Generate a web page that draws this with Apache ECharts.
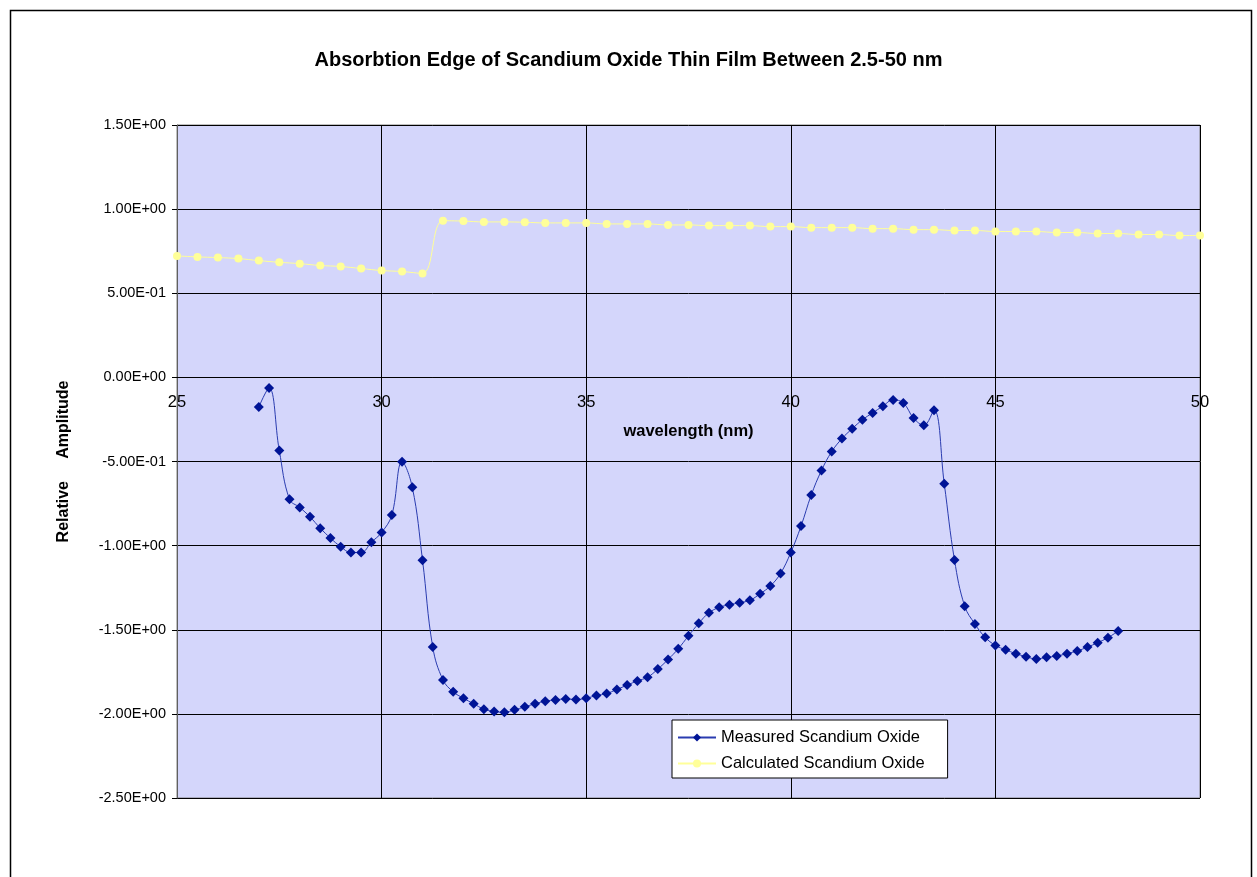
<!DOCTYPE html>
<html>
<head>
<meta charset="utf-8">
<script src="https://cdn.jsdelivr.net/npm/echarts@6/dist/echarts.min.js"></script>
<style>
html,body{margin:0;padding:0;background:#fff;}
#chart{width:1257px;height:877px;}
</style>
</head>
<body>
<div id="chart"></div>
<script>
// Measured Scandium Oxide (wavelength nm, relative amplitude)
var measuredX = [27,27.25,27.5,27.75,28,28.25,28.5,28.75,29,29.25,29.5,29.75,30,30.25,30.5,30.75,31,31.25,31.5,31.75,32,32.25,32.5,32.75,33,33.25,33.5,33.75,34,34.25,34.5,34.75,35,35.25,35.5,35.75,36,36.25,36.5,36.75,37,37.25,37.5,37.75,38,38.25,38.5,38.75,39,39.25,39.5,39.75,40,40.25,40.5,40.75,41,41.25,41.5,41.75,42,42.25,42.5,42.75,43,43.25,43.5,43.75,44,44.25,44.5,44.75,45,45.25,45.5,45.75,46,46.25,46.5,46.75,47,47.25,47.5,47.75,48];
var measuredY = [-0.176,-0.063,-0.435,-0.725,-0.773,-0.829,-0.896,-0.955,-1.006,-1.041,-1.041,-0.980,-0.922,-0.818,-0.502,-0.653,-1.087,-1.603,-1.798,-1.869,-1.907,-1.940,-1.972,-1.986,-1.990,-1.976,-1.958,-1.940,-1.925,-1.917,-1.911,-1.915,-1.907,-1.891,-1.879,-1.855,-1.829,-1.804,-1.782,-1.734,-1.677,-1.613,-1.536,-1.462,-1.399,-1.367,-1.351,-1.339,-1.325,-1.286,-1.240,-1.165,-1.041,-0.884,-0.699,-0.553,-0.441,-0.364,-0.305,-0.252,-0.211,-0.171,-0.134,-0.152,-0.242,-0.285,-0.195,-0.632,-1.085,-1.360,-1.466,-1.545,-1.593,-1.619,-1.642,-1.660,-1.674,-1.664,-1.656,-1.642,-1.626,-1.603,-1.577,-1.547,-1.508];

// Calculated Scandium Oxide
var calcX = [25,25.5,26,26.5,27,27.5,28,28.5,29,29.5,30,30.5,31,31.5,32,32.5,33,33.5,34,34.5,35,35.5,36,36.5,37,37.5,38,38.5,39,39.5,40,40.5,41,41.5,42,42.5,43,43.5,44,44.5,45,45.5,46,46.5,47,47.5,48,48.5,49,49.5,50];
var calcY = [0.722,0.716,0.712,0.706,0.694,0.684,0.676,0.665,0.659,0.647,0.635,0.629,0.618,0.931,0.929,0.924,0.924,0.922,0.918,0.918,0.918,0.912,0.912,0.912,0.906,0.906,0.902,0.902,0.902,0.896,0.896,0.890,0.890,0.890,0.884,0.884,0.878,0.878,0.873,0.873,0.867,0.867,0.867,0.861,0.861,0.855,0.855,0.849,0.849,0.843,0.843];

var seriesNames = ['Measured Scandium Oxide', 'Calculated Scandium Oxide'];
var titleText = 'Absorbtion Edge of Scandium Oxide Thin Film Between 2.5-50 nm';
var xName = 'wavelength (nm)';
var yName = 'Relative     Amplitude';

function pairs(xs, ys){ var out=[]; for (var i=0;i<xs.length;i++) out.push([xs[i], ys[i]]); return out; }
function sci(v){
  if (Math.abs(v) < 1e-12) return '0.00E+00';
  var s = v.toExponential(2).toUpperCase();
  var parts = s.split('E');
  var e = parseInt(parts[1],10);
  var es = (e<0?'-':'+') + (Math.abs(e)<10?'0':'') + Math.abs(e);
  return parts[0] + 'E' + es;
}

var FONT = 'Liberation Sans, Arial, sans-serif';
var GRID_TOP = 125, GRID_H = 673, YMIN = -2.5, YMAX = 1.5;
// pixel distance from the bottom of the plot up to the value 0 line
var zeroOffset = GRID_H * (0 - YMIN) / (YMAX - YMIN);

var chart = echarts.init(document.getElementById('chart'));
chart.setOption({
  backgroundColor: '#ffffff',
  animation: false,
  graphic: [{
    type: 'rect', left: 8, top: 8, silent: true,
    shape: { width: 1241, height: 900 },
    style: { fill: 'none', stroke: '#000', lineWidth: 1.5 }
  }],
  title: {
    text: titleText, left: 'center', top: 45,
    textStyle: { fontFamily: FONT, fontSize: 20, fontWeight: 'bold', color: '#000' }
  },
  grid: {
    left: 177, top: GRID_TOP, width: 1023, height: GRID_H,
    show: true, backgroundColor: '#d4d6fb', borderColor: '#808080', borderWidth: 1
  },
  legend: {
    orient: 'vertical', left: 672, top: 720,
    backgroundColor: '#ffffff', borderColor: '#000', borderWidth: 1,
    padding: [9, 23, 6, 5], itemGap: 9, itemWidth: 38, itemHeight: 10,
    textStyle: { fontFamily: FONT, fontSize: 16.5, color: '#000' },
    data: seriesNames
  },
  xAxis: {
    type: 'value', min: 25, max: 50, interval: 5,
    position: 'bottom', offset: -zeroOffset,
    name: xName, nameLocation: 'middle', nameGap: 46,
    nameTextStyle: { fontFamily: FONT, fontSize: 16.5, fontWeight: 'bold', color: '#000' },
    axisLine: { onZero: false, lineStyle: { color: '#000', width: 1 } },
    axisTick: { show: false },
    axisLabel: { fontFamily: FONT, fontSize: 16.5, color: '#000', margin: 17 },
    splitLine: { show: true, lineStyle: { color: '#000', width: 1 } }
  },
  yAxis: {
    type: 'value', min: YMIN, max: YMAX, interval: 0.5,
    name: yName, nameLocation: 'middle', nameGap: 105,
    nameTextStyle: { fontFamily: FONT, fontSize: 16, fontWeight: 'bold', color: '#000' },
    axisLine: { show: true, lineStyle: { color: '#606060' } },
    axisTick: { show: true, length: 5, lineStyle: { color: '#000' } },
    axisLabel: { fontFamily: FONT, fontSize: 14.5, color: '#000', margin: 11, formatter: sci },
    splitLine: { show: true, lineStyle: { color: '#000', width: 1 } }
  },
  series: [{
    name: seriesNames[0], type: 'line', smooth: 0.4,
    data: pairs(measuredX, measuredY),
    symbol: 'diamond', symbolSize: 10,
    itemStyle: { color: '#001496' },
    lineStyle: { color: '#2a3cb0', width: 1 },
    z: 3
  }, {
    name: seriesNames[1], type: 'line', smooth: 0.4,
    data: pairs(calcX, calcY),
    symbol: 'circle', symbolSize: 8,
    itemStyle: { color: '#ffff99' },
    lineStyle: { color: '#ffff99', width: 1 },
    z: 2
  }]
});
</script>
</body>
</html>
